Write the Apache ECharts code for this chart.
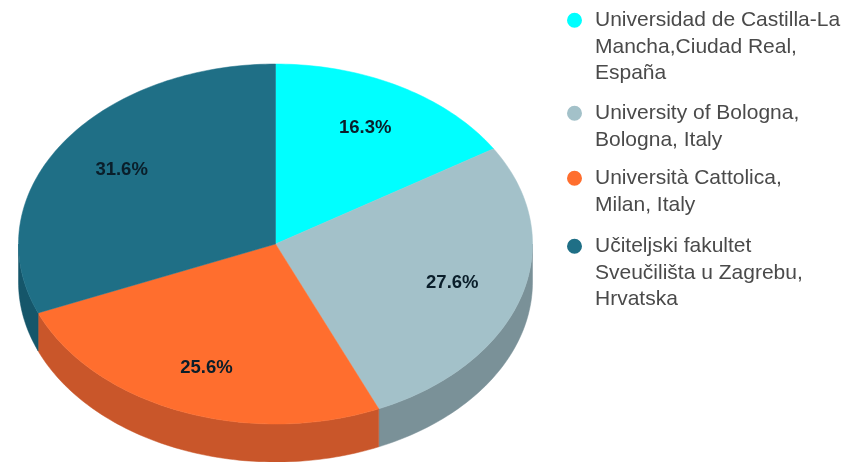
<!DOCTYPE html>
<html><head><meta charset="utf-8">
<script src="https://cdn.jsdelivr.net/npm/echarts@6/dist/echarts.min.js"></script>
<style>html,body{margin:0;padding:0;background:#fff}#c{width:853px;height:462px;filter:blur(0.6px)}</style>
</head><body><div id="c"></div>
<script>
const categories = [
  'Universidad de Castilla-La\nMancha,Ciudad Real,\nEspaña',
  'University of Bologna,\nBologna, Italy',
  'Università Cattolica,\nMilan, Italy',
  'Učiteljski fakultet\nSveučilišta u Zagrebu,\nHrvatska'
];
const values = [16.3, 27.6, 25.6, 31.6];
const topColors = ['#00FFFF', '#A3C1C9', '#FF6E2E', '#1F6F86'];
const sideColors = ['#00BFBF', '#7A9198', '#C9562A', '#15566A'];
const legendTops = [7, 100, 165, 233];

const CX = 275.5, CY = 244, RX = 257, RY = 180, DEPTH = 38;
const total = values.reduce((a, b) => a + b, 0);
const LINE = 26.5, ICON = 15;

function rim(t, dy) { return [CX + RX * Math.sin(t), CY + RY * -Math.cos(t) + (dy || 0)]; }
function arc(a, b, dy) {
  const n = Math.max(2, Math.ceil((b - a) / 0.02)), out = [];
  for (let i = 0; i <= n; i++) out.push(rim(a + (b - a) * i / n, dy));
  return out;
}
function makeRender(i) {
  return function (params, api) {
    const before = api.value(0), v = api.value(1);
    const a = before / total * 2 * Math.PI, b = (before + v) / total * 2 * Math.PI;
    const children = [];
    const fa = Math.max(a, Math.PI / 2), fb = Math.min(b, 3 * Math.PI / 2);
    if (fb > fa) {
      const upper = arc(fa, fb, 0), lower = arc(fa, fb, DEPTH).reverse();
      children.push({ type: 'polygon', shape: { points: upper.concat(lower) },
        style: { fill: sideColors[i], stroke: sideColors[i], lineWidth: 0.5 } });
    }
    children.push({ type: 'polygon', shape: { points: [[CX, CY]].concat(arc(a, b, 0)) },
      style: { fill: topColors[i], stroke: topColors[i], lineWidth: 0.5 } });
    const m = (a + b) / 2;
    children.push({ type: 'text', z2: 10, style: {
      x: CX + 0.72 * RX * Math.sin(m), y: CY - 0.74 * RY * Math.cos(m),
      text: v.toFixed(1) + '%', align: 'center', verticalAlign: 'middle',
      font: 'bold 18.5px "Liberation Sans", Arial, sans-serif', fill: '#0A1E2A' } });
    return { type: 'group', children };
  };
}
let running = 0;
const series = values.map((v, i) => {
  const s = { type: 'custom', name: categories[i], coordinateSystem: 'none',
    itemStyle: { color: topColors[i] }, renderItem: makeRender(i),
    encode: { value: 1 }, data: [[running, v]], silent: true };
  running += v;
  return s;
});
const legend = categories.map((name, i) => {
  const h = name.split('\n').length * LINE;
  return { left: 567, top: legendTops[i], orient: 'vertical', padding: 0,
    itemWidth: ICON, itemHeight: h, itemGap: 0, selectedMode: false,
    symbolKeepAspect: false,
    data: [{ name, itemStyle: { borderWidth: 0 },
      icon: `path://M0 ${LINE / 2}a${ICON / 2} ${ICON / 2} 0 1 0 ${ICON} 0a${ICON / 2} ${ICON / 2} 0 1 0 -${ICON} 0ZM0 0L0 0ZM${ICON} ${h}L${ICON} ${h}Z` }],
    textStyle: { fontFamily: '"Liberation Sans", Arial, sans-serif', fontSize: 21, lineHeight: LINE, color: '#4A4A4A', padding: [0, 0, 0, 8] } };
});
echarts.init(document.getElementById('c'), null, { renderer: 'canvas' }).setOption({
  animation: false, backgroundColor: '#fff', tooltip: { show: false }, legend, series
});
</script></body></html>
